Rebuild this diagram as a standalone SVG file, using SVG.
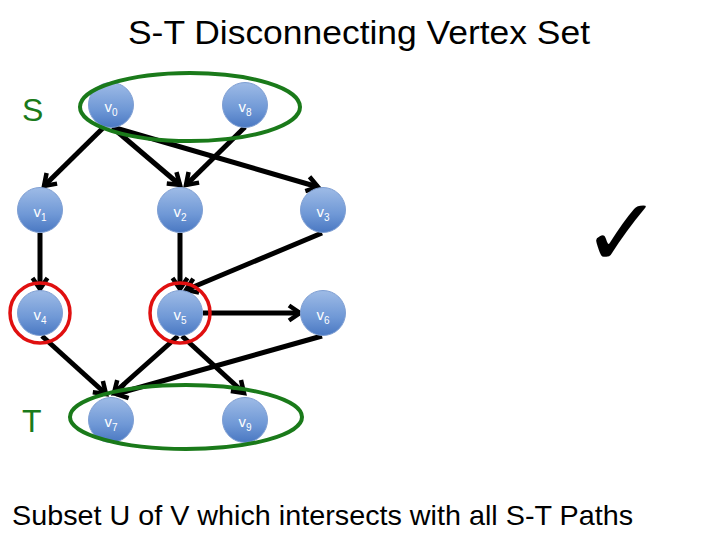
<svg xmlns="http://www.w3.org/2000/svg" width="720" height="540" viewBox="0 0 720 540">
<defs>
<linearGradient id="ng" x1="0" y1="0" x2="0" y2="1">
<stop offset="0" stop-color="#9ebbe6"/>
<stop offset="0.6" stop-color="#6f98d6"/>
<stop offset="1" stop-color="#4a78c2"/>
</linearGradient>
<marker id="ah" viewBox="0 0 20 20" markerWidth="20" markerHeight="20" markerUnits="userSpaceOnUse" refX="16" refY="10" orient="auto">
<path d="M5,2.5 L16,10 L5,17.5" fill="none" stroke="#000" stroke-width="4.5"/>
</marker>
</defs>
<style>
.node circle{fill:url(#ng);stroke:#7f9fd3;stroke-width:1}
.lbl{font-family:"Liberation Sans",Arial,sans-serif;font-size:15px;fill:#fff;text-anchor:middle}
.sub{font-size:10px}
.edge{stroke:#000;stroke-width:5;fill:none;marker-end:url(#ah)}
.set{fill:none;stroke:#1a7a1a;stroke-width:4}
.cut{fill:none;stroke:#e01010;stroke-width:3.5}
.big{font-family:"Liberation Sans",Arial,sans-serif}
</style>
<rect width="720" height="540" fill="#fff"/>
<text class="big" x="128" y="44" font-size="34" textLength="462" lengthAdjust="spacingAndGlyphs">S-T Disconnecting Vertex Set</text>
<text class="big" x="22" y="121" font-size="32" fill="#1a7a1a">S</text>
<text class="big" x="22" y="432" font-size="32" fill="#1a7a1a">T</text>
<g id="connectors">
<line class="edge" x1="103" y1="128" x2="44" y2="186"/>
<line class="edge" x1="113" y1="128" x2="180" y2="185"/>
<line class="edge" x1="112" y1="127" x2="318" y2="187"/>
<line class="edge" x1="245" y1="127" x2="186" y2="185"/>
<line class="edge" x1="40" y1="233" x2="40" y2="289"/>
<line class="edge" x1="180" y1="233" x2="180" y2="289"/>
<line class="edge" x1="322" y1="233" x2="186" y2="290"/>
<line class="edge" x1="203" y1="313" x2="300" y2="313"/>
<line class="edge" x1="42" y1="336" x2="106" y2="394"/>
<line class="edge" x1="178" y1="336" x2="114" y2="393"/>
<line class="edge" x1="182" y1="336" x2="244" y2="393"/>
<line class="edge" x1="322" y1="336" x2="116" y2="394"/>
</g>
<g id="v0" class="node"><circle cx="111" cy="105" r="22.5"/><text class="lbl" x="111" y="112">v<tspan class="sub" dy="4">0</tspan></text></g>
<g id="v8" class="node"><circle cx="245" cy="105" r="22.5"/><text class="lbl" x="245" y="112">v<tspan class="sub" dy="4">8</tspan></text></g>
<g id="v1" class="node"><circle cx="40" cy="210" r="22.5"/><text class="lbl" x="40" y="217">v<tspan class="sub" dy="4">1</tspan></text></g>
<g id="v2" class="node"><circle cx="180" cy="210" r="22.5"/><text class="lbl" x="180" y="217">v<tspan class="sub" dy="4">2</tspan></text></g>
<g id="v3" class="node"><circle cx="323" cy="210" r="22.5"/><text class="lbl" x="323" y="217">v<tspan class="sub" dy="4">3</tspan></text></g>
<g id="v4" class="node"><circle cx="40" cy="313" r="22.5"/><text class="lbl" x="40" y="320">v<tspan class="sub" dy="4">4</tspan></text></g>
<g id="v5" class="node"><circle cx="180" cy="313" r="22.5"/><text class="lbl" x="180" y="320">v<tspan class="sub" dy="4">5</tspan></text></g>
<g id="v6" class="node"><circle cx="323" cy="313" r="22.5"/><text class="lbl" x="323" y="320">v<tspan class="sub" dy="4">6</tspan></text></g>
<g id="v7" class="node"><circle cx="111" cy="420" r="22.5"/><text class="lbl" x="111" y="427">v<tspan class="sub" dy="4">7</tspan></text></g>
<g id="v9" class="node"><circle cx="245" cy="420" r="22.5"/><text class="lbl" x="245" y="427">v<tspan class="sub" dy="4">9</tspan></text></g>
<ellipse class="set" cx="190" cy="107" rx="110" ry="34"/>
<ellipse class="set" cx="186" cy="417" rx="116" ry="32"/>
<circle class="cut" cx="40" cy="313" r="30"/>
<circle class="cut" cx="180" cy="313" r="30"/>
<text x="622" y="266" font-family="DejaVu Sans,sans-serif" font-size="96" text-anchor="middle">✓</text>
<text class="big" x="12" y="525" font-size="28" textLength="621" lengthAdjust="spacingAndGlyphs">Subset U of V which intersects with all S-T Paths</text>
</svg>
